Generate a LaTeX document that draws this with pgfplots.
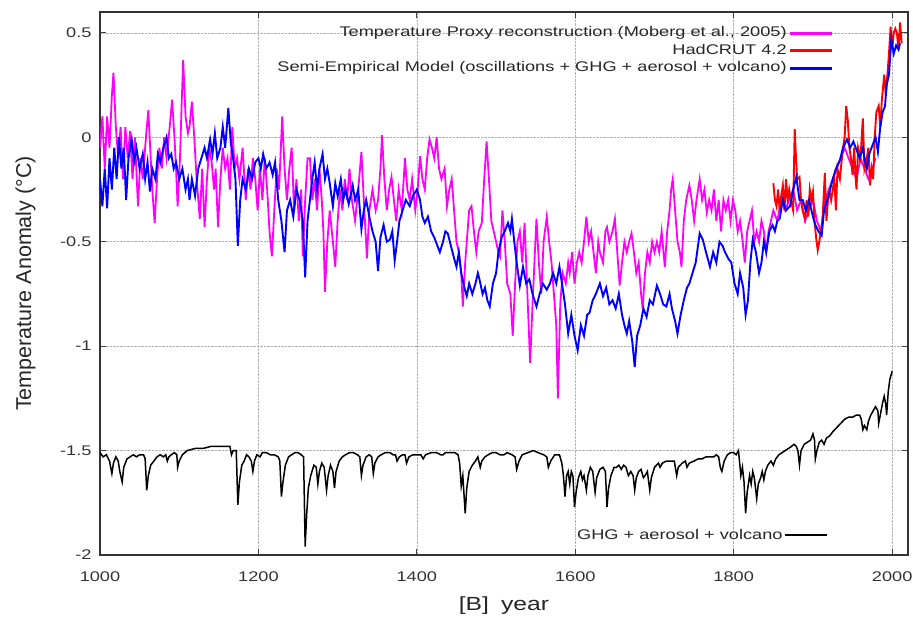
\documentclass[border=0pt]{standalone}
\usepackage{fontspec}
\setmainfont{Liberation Sans}
\newfontfamily\sfs[FakeStretch=1.3]{Liberation Sans}
\usepackage{pgfplots}
\usepackage{pgfplotstable}
\pgfplotsset{compat=1.18}
\definecolor{pmag}{RGB}{255,0,255}
\definecolor{pred}{RGB}{255,0,0}
\definecolor{pblue}{RGB}{0,0,255}

\pgfplotstableread{
year val
1000 -0.05
1003 0.1
1006 -0.15
1009 0.1
1012 -0.05
1015 0.2
1017 0.31
1020 0.05
1023 -0.1
1026 0.05
1029 -0.2
1032 0.05
1035 -0.1
1038 0.03
1041 -0.2
1044 0.0
1048 -0.33
1051 -0.1
1054 -0.2
1058 0.0
1061 0.13
1064 -0.1
1066 -0.25
1069 -0.41
1072 -0.2
1075 -0.05
1078 -0.15
1081 0.0
1084 -0.1
1088 0.05
1091 0.18
1094 0.0
1096 -0.15
1098 -0.33
1101 -0.1
1103 0.15
1105 0.37
1108 0.1
1111 0.02
1113 0.05
1116 0.17
1119 0.0
1122 -0.2
1126 -0.39
1129 -0.15
1132 -0.43
1135 -0.2
1138 -0.05
1141 -0.12
1144 -0.25
1146 -0.15
1149 -0.43
1152 -0.2
1155 -0.05
1158 -0.15
1161 -0.1
1164 -0.25
1167 0.05
1170 -0.15
1173 -0.1
1176 -0.2
1180 -0.05
1184 -0.3
1187 -0.15
1190 -0.25
1193 -0.1
1196 -0.2
1199 -0.35
1202 -0.15
1205 -0.3
1208 -0.1
1211 -0.25
1214 -0.45
1217 -0.57
1220 -0.35
1223 -0.15
1226 -0.25
1230 0.10
1233 -0.15
1236 -0.3
1239 -0.15
1242 -0.05
1245 -0.35
1248 -0.2
1251 -0.4
1254 -0.25
1256 -0.57
1259 -0.3
1262 -0.1
1265 -0.1
1268 -0.3
1271 -0.2
1274 -0.35
1277 -0.15
1280 -0.3
1282 -0.45
1284 -0.74
1287 -0.5
1290 -0.35
1294 -0.5
1297 -0.62
1300 -0.4
1303 -0.25
1306 -0.35
1309 -0.2
1312 -0.3
1315 -0.15
1318 -0.3
1322 -0.4
1326 -0.25
1330 -0.07
1333 -0.3
1337 -0.58
1340 -0.35
1344 -0.25
1348 -0.35
1351 -0.3
1354 -0.15
1356 0.01
1359 -0.2
1362 -0.35
1365 -0.25
1368 -0.19
1371 -0.3
1374 -0.4
1377 -0.25
1381 -0.35
1385 -0.1
1388 -0.25
1391 -0.3
1394 -0.2
1398 -0.35
1401 -0.25
1404 -0.09
1407 -0.2
1410 -0.25
1413 -0.1
1416 -0.01
1419 -0.05
1422 -0.1
1425 0.0
1428 -0.15
1431 -0.2
1435 -0.15
1438 -0.33
1441 -0.25
1444 -0.2
1447 -0.35
1450 -0.5
1453 -0.55
1456 -0.65
1458 -0.81
1461 -0.6
1464 -0.45
1466 -0.35
1469 -0.33
1472 -0.45
1475 -0.55
1478 -0.45
1482 -0.41
1485 -0.2
1488 -0.02
1491 -0.2
1494 -0.4
1497 -0.45
1500 -0.5
1503 -0.55
1505 -0.57
1508 -0.35
1511 -0.5
1514 -0.7
1518 -0.75
1521 -0.95
1524 -0.7
1527 -0.5
1530 -0.45
1533 -0.6
1536 -0.41
1539 -0.7
1543 -1.08
1546 -0.8
1549 -0.55
1551 -0.39
1554 -0.6
1557 -0.75
1560 -0.5
1564 -0.38
1567 -0.5
1570 -0.6
1573 -0.75
1576 -0.9
1578 -1.25
1581 -0.8
1584 -0.65
1588 -0.7
1591 -0.6
1593 -0.65
1596 -0.55
1599 -0.7
1602 -0.6
1605 -0.55
1608 -0.6
1611 -0.5
1614 -0.38
1617 -0.5
1620 -0.45
1623 -0.55
1626 -0.65
1629 -0.5
1631 -0.55
1635 -0.6
1638 -0.45
1640 -0.43
1643 -0.5
1647 -0.45
1650 -0.39
1653 -0.55
1656 -0.71
1659 -0.6
1662 -0.5
1665 -0.55
1668 -0.5
1671 -0.46
1674 -0.55
1677 -0.65
1680 -0.6
1683 -0.75
1685 -0.82
1688 -0.65
1691 -0.55
1694 -0.6
1697 -0.5
1700 -0.55
1703 -0.5
1706 -0.55
1709 -0.45
1713 -0.62
1716 -0.45
1719 -0.35
1721 -0.25
1723 -0.2
1726 -0.35
1729 -0.5
1732 -0.55
1734 -0.62
1737 -0.4
1740 -0.3
1744 -0.23
1747 -0.3
1750 -0.4
1753 -0.3
1757 -0.2
1760 -0.3
1763 -0.25
1766 -0.36
1769 -0.3
1772 -0.35
1775 -0.25
1778 -0.4
1781 -0.3
1784 -0.45
1787 -0.3
1790 -0.35
1793 -0.3
1796 -0.4
1799 -0.3
1802 -0.35
1805 -0.45
1808 -0.4
1811 -0.49
1814 -0.6
1817 -0.45
1820 -0.4
1823 -0.35
1826 -0.5
1829 -0.45
1832 -0.5
1835 -0.4
1838 -0.45
1841 -0.55
1844 -0.45
1847 -0.4
1850 -0.35
1855 -0.4
1860 -0.3
1865 -0.35
1870 -0.3
1875 -0.25
1880 -0.35
1885 -0.3
1890 -0.4
1895 -0.35
1900 -0.3
1905 -0.4
1910 -0.45
1915 -0.3
1920 -0.25
1925 -0.2
1930 -0.15
1935 -0.1
1940 -0.05
1945 -0.1
1950 -0.15
1955 -0.2
1960 -0.1
1965 -0.15
1970 -0.2
1975 -0.15
1979 -0.1
}\proxy

\pgfplotstableread{
year val
1850 -0.22
1852 -0.3
1854 -0.33
1856 -0.25
1858 -0.35
1860 -0.28
1862 -0.23
1864 -0.35
1866 -0.2
1868 -0.3
1870 -0.25
1872 -0.3
1875 -0.35
1877 0.04
1878 -0.05
1880 -0.2
1883 -0.19
1885 -0.3
1887 -0.35
1890 -0.39
1892 -0.3
1894 -0.38
1896 -0.25
1898 -0.3
1900 -0.26
1902 -0.4
1904 -0.48
1906 -0.54
1908 -0.5
1910 -0.45
1912 -0.4
1914 -0.25
1915 -0.17
1917 -0.4
1919 -0.3
1921 -0.26
1923 -0.3
1925 -0.25
1927 -0.2
1929 -0.35
1931 -0.15
1934 -0.2
1936 -0.12
1938 -0.05
1940 0.0
1942 0.15
1944 0.08
1946 -0.05
1948 -0.1
1950 -0.18
1952 -0.05
1954 -0.2
1955 -0.25
1957 -0.05
1960 -0.1
1963 0.09
1965 -0.15
1968 -0.1
1970 -0.05
1972 -0.23
1974 -0.15
1976 -0.2
1978 0.0
1980 0.12
1983 0.15
1985 0.05
1987 0.18
1988 0.22
1990 0.3
1992 0.2
1994 0.3
1996 0.4
1998 0.53
2000 0.42
2002 0.5
2004 0.52
2006 0.5
2008 0.42
2010 0.55
2012 0.45
}\hadcrut

\pgfplotstableread{
year val
1000 -0.2
1003 -0.33
1006 -0.15
1009 -0.34
1012 -0.1
1015 -0.25
1018 -0.05
1021 -0.2
1024 0.0
1027 -0.15
1030 -0.05
1033 -0.3
1036 -0.1
1040 -0.01
1043 -0.12
1046 -0.05
1050 -0.15
1054 -0.08
1057 -0.2
1060 -0.12
1063 -0.26
1066 -0.15
1070 -0.2
1073 -0.08
1076 -0.12
1080 -0.05
1084 0.0
1087 -0.1
1090 -0.08
1093 -0.15
1096 -0.12
1100 -0.2
1104 -0.15
1108 -0.25
1111 -0.2
1113 -0.3
1116 -0.2
1120 -0.28
1124 -0.15
1128 -0.1
1132 -0.05
1135 -0.1
1139 -0.01
1142 -0.08
1145 0.02
1148 -0.1
1152 -0.05
1155 0.05
1158 -0.05
1162 0.14
1165 -0.02
1168 -0.1
1171 -0.2
1174 -0.52
1177 -0.3
1180 -0.2
1184 -0.25
1188 -0.15
1192 -0.2
1196 -0.12
1200 -0.1
1203 -0.15
1206 -0.08
1210 -0.15
1214 -0.12
1218 -0.18
1221 -0.12
1225 -0.3
1229 -0.4
1233 -0.55
1236 -0.35
1240 -0.3
1244 -0.38
1248 -0.25
1252 -0.3
1256 -0.4
1259 -0.67
1262 -0.4
1265 -0.3
1268 -0.2
1271 -0.12
1274 -0.25
1277 -0.15
1281 -0.08
1284 -0.2
1287 -0.15
1290 -0.22
1294 -0.33
1297 -0.22
1300 -0.28
1304 -0.2
1307 -0.3
1310 -0.25
1314 -0.32
1319 -0.23
1322 -0.3
1326 -0.25
1330 -0.44
1333 -0.35
1336 -0.3
1340 -0.38
1344 -0.45
1348 -0.5
1351 -0.64
1354 -0.48
1358 -0.42
1362 -0.5
1366 -0.49
1369 -0.45
1372 -0.59
1375 -0.5
1378 -0.4
1382 -0.35
1386 -0.3
1391 -0.33
1395 -0.28
1400 -0.25
1404 -0.3
1407 -0.38
1410 -0.41
1414 -0.38
1418 -0.45
1422 -0.48
1426 -0.52
1429 -0.55
1433 -0.5
1436 -0.45
1439 -0.46
1443 -0.52
1447 -0.58
1450 -0.62
1453 -0.55
1456 -0.65
1460 -0.72
1463 -0.76
1466 -0.7
1470 -0.75
1474 -0.7
1477 -0.65
1479 -0.68
1483 -0.75
1486 -0.72
1489 -0.78
1492 -0.81
1496 -0.7
1500 -0.65
1503 -0.55
1507 -0.48
1511 -0.45
1515 -0.41
1518 -0.45
1520 -0.39
1523 -0.5
1526 -0.6
1530 -0.71
1534 -0.62
1538 -0.7
1542 -0.68
1546 -0.75
1551 -0.81
1555 -0.75
1559 -0.7
1564 -0.73
1568 -0.7
1572 -0.65
1576 -0.7
1580 -0.62
1584 -0.72
1587 -0.8
1591 -0.94
1595 -0.85
1599 -0.95
1603 -1.02
1607 -0.9
1611 -0.95
1615 -0.85
1618 -0.84
1622 -0.78
1626 -0.75
1631 -0.7
1635 -0.76
1639 -0.72
1643 -0.8
1647 -0.78
1651 -0.82
1655 -0.75
1659 -0.85
1662 -0.9
1665 -0.94
1668 -0.88
1672 -0.98
1675 -1.1
1678 -0.95
1682 -0.9
1686 -0.82
1690 -0.86
1694 -0.78
1698 -0.8
1703 -0.71
1707 -0.75
1711 -0.8
1715 -0.81
1719 -0.75
1722 -0.82
1726 -0.88
1729 -0.94
1733 -0.85
1737 -0.78
1741 -0.72
1744 -0.7
1748 -0.65
1752 -0.6
1757 -0.46
1761 -0.49
1765 -0.55
1770 -0.62
1774 -0.55
1778 -0.6
1782 -0.5
1786 -0.52
1789 -0.55
1793 -0.58
1797 -0.6
1801 -0.7
1805 -0.75
1808 -0.65
1812 -0.72
1815 -0.85
1818 -0.78
1821 -0.6
1824 -0.49
1828 -0.55
1832 -0.65
1835 -0.6
1838 -0.5
1841 -0.55
1845 -0.45
1849 -0.42
1852 -0.45
1855 -0.4
1858 -0.39
1862 -0.3
1866 -0.35
1871 -0.33
1875 -0.25
1879 -0.19
1883 -0.3
1887 -0.30
1891 -0.35
1895 -0.3
1900 -0.38
1903 -0.42
1907 -0.45
1911 -0.47
1914 -0.35
1918 -0.3
1921 -0.26
1925 -0.2
1929 -0.15
1934 -0.11
1938 -0.05
1943 -0.01
1947 -0.05
1951 -0.02
1955 -0.06
1959 -0.1
1963 -0.05
1966 -0.12
1968 -0.15
1971 -0.08
1975 -0.04
1979 0.0
1982 -0.07
1985 0.05
1988 0.12
1991 0.15
1993 0.25
1996 0.3
1999 0.47
2002 0.4
2005 0.44
2008 0.42
2010 0.45
}\model

\pgfplotstableread{
year val
1000 -1.51
1004 -1.53
1008 -1.52
1012 -1.55
1015 -1.61
1017 -1.56
1020 -1.53
1023 -1.55
1025 -1.6
1028 -1.65
1030 -1.58
1034 -1.54
1038 -1.53
1042 -1.52
1046 -1.53
1050 -1.52
1055 -1.52
1057 -1.54
1059 -1.69
1061 -1.62
1064 -1.57
1068 -1.55
1072 -1.53
1076 -1.52
1080 -1.53
1083 -1.52
1085 -1.55
1087 -1.53
1090 -1.52
1094 -1.51
1097 -1.52
1098 -1.58
1100 -1.55
1104 -1.52
1110 -1.50
1120 -1.49
1130 -1.49
1140 -1.48
1150 -1.48
1160 -1.48
1164 -1.48
1166 -1.52
1168 -1.50
1172 -1.50
1174 -1.76
1176 -1.65
1179 -1.57
1182 -1.55
1185 -1.52
1188 -1.53
1191 -1.55
1193 -1.60
1195 -1.55
1198 -1.52
1202 -1.53
1205 -1.51
1210 -1.51
1215 -1.52
1220 -1.52
1225 -1.53
1227 -1.55
1229 -1.72
1231 -1.65
1234 -1.57
1238 -1.53
1242 -1.52
1246 -1.51
1250 -1.51
1254 -1.52
1257 -1.53
1259 -1.96
1261 -1.80
1263 -1.68
1266 -1.62
1270 -1.57
1273 -1.58
1275 -1.66
1277 -1.60
1280 -1.56
1283 -1.58
1286 -1.69
1288 -1.62
1291 -1.57
1294 -1.60
1296 -1.68
1298 -1.60
1302 -1.55
1306 -1.53
1310 -1.52
1315 -1.51
1320 -1.51
1325 -1.52
1328 -1.53
1330 -1.62
1332 -1.57
1336 -1.53
1340 -1.52
1343 -1.53
1345 -1.61
1347 -1.56
1351 -1.53
1355 -1.52
1360 -1.51
1366 -1.51
1370 -1.52
1373 -1.52
1375 -1.55
1378 -1.53
1382 -1.52
1385 -1.52
1387 -1.56
1390 -1.53
1395 -1.52
1400 -1.52
1405 -1.52
1408 -1.54
1411 -1.52
1418 -1.51
1425 -1.51
1430 -1.52
1433 -1.52
1436 -1.51
1442 -1.51
1448 -1.51
1452 -1.52
1454 -1.56
1456 -1.67
1458 -1.62
1461 -1.80
1463 -1.68
1466 -1.60
1470 -1.57
1474 -1.55
1477 -1.53
1480 -1.58
1482 -1.55
1486 -1.53
1490 -1.52
1495 -1.51
1500 -1.51
1505 -1.52
1510 -1.52
1514 -1.51
1520 -1.52
1524 -1.53
1526 -1.59
1529 -1.55
1533 -1.52
1540 -1.51
1547 -1.50
1553 -1.51
1560 -1.52
1564 -1.53
1566 -1.58
1569 -1.55
1574 -1.52
1580 -1.52
1583 -1.56
1585 -1.62
1587 -1.72
1589 -1.62
1591 -1.60
1593 -1.66
1595 -1.60
1597 -1.62
1599 -1.77
1601 -1.70
1604 -1.63
1607 -1.60
1609 -1.64
1611 -1.62
1614 -1.69
1616 -1.62
1619 -1.58
1622 -1.60
1625 -1.70
1627 -1.63
1631 -1.59
1635 -1.58
1638 -1.60
1640 -1.77
1642 -1.68
1645 -1.62
1649 -1.58
1652 -1.58
1655 -1.57
1658 -1.59
1661 -1.57
1664 -1.58
1667 -1.62
1670 -1.60
1673 -1.62
1675 -1.69
1677 -1.63
1680 -1.60
1683 -1.59
1686 -1.63
1688 -1.62
1691 -1.60
1694 -1.69
1696 -1.63
1700 -1.58
1705 -1.56
1707 -1.58
1710 -1.56
1715 -1.55
1720 -1.55
1725 -1.55
1728 -1.62
1730 -1.58
1735 -1.56
1739 -1.55
1741 -1.58
1744 -1.56
1750 -1.55
1755 -1.54
1760 -1.54
1765 -1.53
1770 -1.53
1775 -1.53
1778 -1.52
1781 -1.53
1783 -1.58
1785 -1.60
1788 -1.55
1792 -1.52
1796 -1.51
1800 -1.51
1803 -1.52
1806 -1.50
1809 -1.62
1811 -1.58
1813 -1.65
1815 -1.80
1817 -1.70
1820 -1.62
1822 -1.66
1824 -1.60
1826 -1.63
1829 -1.73
1831 -1.66
1834 -1.63
1836 -1.60
1838 -1.64
1840 -1.60
1843 -1.57
1847 -1.55
1850 -1.57
1853 -1.54
1857 -1.52
1861 -1.51
1865 -1.50
1869 -1.49
1873 -1.48
1876 -1.47
1879 -1.48
1881 -1.50
1883 -1.57
1885 -1.50
1889 -1.47
1893 -1.46
1897 -1.45
1900 -1.42
1902 -1.45
1903 -1.54
1905 -1.50
1908 -1.46
1911 -1.45
1914 -1.47
1917 -1.44
1921 -1.43
1925 -1.41
1930 -1.39
1935 -1.37
1940 -1.35
1945 -1.34
1950 -1.34
1955 -1.33
1959 -1.33
1961 -1.35
1963 -1.40
1965 -1.38
1968 -1.40
1970 -1.36
1973 -1.33
1976 -1.31
1979 -1.29
1982 -1.31
1983 -1.37
1985 -1.33
1988 -1.27
1990 -1.24
1992 -1.28
1993 -1.33
1995 -1.22
1997 -1.16
2000 -1.12
}\forcing

\begin{document}
\begin{tikzpicture}
\useasboundingbox (-100pt,-69pt) rectangle (813pt,555pt);
\pgfplotsset{
  common/.style={
    scale only axis, width=808pt, height=543pt,
    xmin=1000, xmax=2020, ymin=-2, ymax=0.6,
    xtick={1000,1200,1400,1600,1800,2000},
    ytick={-2,-1.5,-1,-0.5,0,0.5},
  }
}
\begin{axis}[common,
  grid=major,
  grid style={densely dotted, gray!60, line width=0.6pt},
  tick align=inside,
  major tick length=6pt,
  axis line style={black!80, line width=1.3pt},
  tick style={black!75, line width=0.8pt},
  /pgf/number format/assume math mode=true,
  /pgf/number format/1000 sep={},
  ticklabel style={font=\sfs\fontsize{14}{14}\selectfont, text=black!80},
  yticklabel style={/pgf/number format/fixed, xshift=-5pt},
  xticklabel style={yshift=-13pt},
  xlabel={[B]\hspace{12pt}year},
  ylabel={Temperature Anomaly (°C)},
  xlabel style={font=\sfs\fontsize{19}{19}\selectfont, text=black!85,
    at={(axis description cs:0.5,-0.094)}, anchor=center},
  ylabel style={font=\fontsize{21.5}{21.5}\selectfont, text=black!85,
    at={(axis description cs:-0.092,0.5)}, anchor=center},
  legend cell align=right,
  legend plot pos=right,
  legend style={at={(0.912,0.981)}, anchor=north east, draw=none, fill=none,
    font=\sfs\fontsize{14}{16}\selectfont, text=black!85, row sep=0.5pt,
    nodes={text height=10pt, text depth=3pt, inner sep=2pt},
    /tikz/every even column/.append style={column sep=4pt}},
  legend image post style={line width=3pt},
  legend image code/.code={\draw[#1] (0pt,0pt) -- (42pt,0pt);},
]
\addplot[pmag, line width=1.8pt] table[x=year,y=val] {\proxy};
\addlegendentry{Temperature Proxy reconstruction (Moberg et al., 2005)}
\addplot[pred, line width=1.9pt] table[x=year,y=val] {\hadcrut};
\addlegendentry{HadCRUT 4.2}
\addplot[pblue, line width=1.9pt] table[x=year,y=val] {\model};
\addlegendentry{Semi-Empirical Model (oscillations + GHG + aerosol + volcano)}
\end{axis}
\begin{axis}[common, hide axis,
  legend cell align=right,
  legend plot pos=right,
  legend style={at={(0.905,0.037)}, anchor=east, draw=none, fill=none,
    font=\sfs\fontsize{14}{16}\selectfont, text=black!85,
    /tikz/every even column/.append style={column sep=4pt}},
  legend image code/.code={\draw[#1] (0pt,0pt) -- (42pt,0pt);},
]
\addplot[black, line width=1.5pt] table[x=year,y=val] {\forcing};
\addlegendentry{GHG + aerosol + volcano}
\end{axis}
\end{tikzpicture}
\end{document}
